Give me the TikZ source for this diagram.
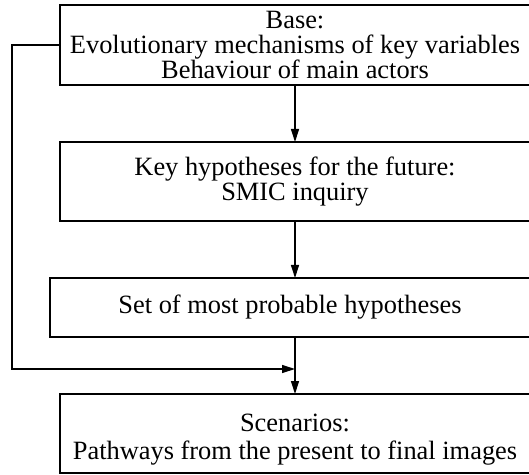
\documentclass[tikz,border=0pt]{standalone}
\usepackage{fontspec}
\setmainfont{Liberation Serif}
\usetikzlibrary{arrows.meta,positioning}
\tikzset{
  blk/.style={draw,line width=0.6pt,anchor=north west,minimum width=235pt,
    inner sep=0pt,outer sep=0pt,align=center,font=\fontsize{13.2}{12.4}\selectfont},
  arr/.style={line width=0.6pt,-{Triangle[length=6.5pt,width=4pt]}},
}
\begin{document}
\begin{tikzpicture}
  \useasboundingbox (0,0) rectangle (264.5pt,-237.5pt);
  \clip (0,0) rectangle (264.5pt,-237.5pt);
  \node[blk,minimum height=40pt] (base) at (30pt,-2.5pt)
    {Base:\\Evolutionary mechanisms of key variables\\Behaviour of main actors};
  \node[blk,minimum height=39.5pt] (key) [below=28.5pt of base] {Key hypotheses for the future:\\SMIC inquiry};
  \node[blk,minimum height=29.5pt,minimum width=240pt] (set) [below left=28.5pt and 0pt of key.south east] {Set of most probable hypotheses};
  \node[blk,minimum height=39.5pt] (scen) [below left=28.5pt and 0pt of set.south east]
    {\rule{0pt}{15pt}Scenarios:\\[1.5pt]Pathways from the present to final images};
  \coordinate[above=12.5pt of scen.north] (join);
  \draw[arr] (base) -- (key);
  \draw[arr] (key.south) -- (key.south |- set.north);
  \draw[arr] (scen.north |- set.south) -- (scen.north);
  \draw[arr] (base.west) -- ++(-24pt,0) |- (join);
\end{tikzpicture}
\end{document}
